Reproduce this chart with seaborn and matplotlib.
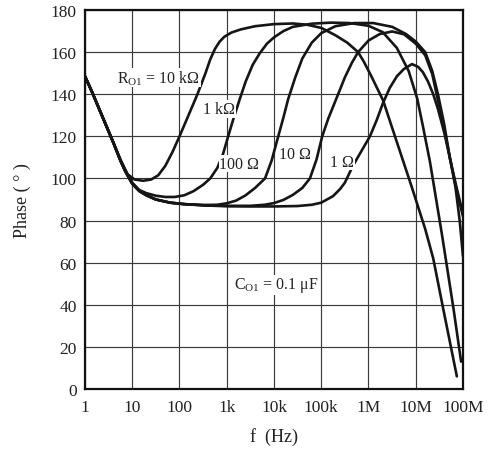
import numpy as np
import pandas as pd
import matplotlib
matplotlib.use("Agg")
import matplotlib.pyplot as plt
import seaborn as sns

# ---------------- data (log10 of frequency in Hz, phase in degrees) ----------------
exp_10k = [0, 0.15, 0.3, 0.45, 0.6, 0.75, 0.9, 1.05, 1.23, 1.4, 1.55, 1.7, 1.85, 2.0, 2.2, 2.38,
           2.55, 2.65, 2.75, 2.85, 2.95, 3.1, 3.3, 3.6, 4.0, 4.4, 4.7, 5.0, 5.3, 5.55, 5.78, 5.9,
           6.05, 6.31, 6.56, 6.9, 7.2, 7.37, 7.6, 7.87]
ph_10k = [148.5, 141, 133, 125, 117, 109, 102, 99.5, 98.9, 99.5, 101.5, 106, 112.5, 120, 130.5, 140,
          150, 156.5, 161.5, 165, 167.3, 169.3, 170.8, 172.3, 173.3, 173.6, 173, 171.5, 168, 164.5, 160, 155.5,
          149, 137, 120, 97, 76, 62, 36, 6]

exp_1k = [0, 0.15, 0.3, 0.45, 0.6, 0.75, 0.85, 1.0, 1.15, 1.3, 1.5, 1.7, 1.9, 2.1, 2.3, 2.5, 2.65,
          2.8, 2.92, 3.03, 3.15, 3.28, 3.4, 3.55, 3.7, 3.85, 4.0, 4.2, 4.4, 4.8, 5.2, 5.6, 6.0, 6.3,
          6.6, 6.85, 7.03, 7.15, 7.3, 7.55, 7.8, 7.96]
ph_1k = [148.5, 141, 133, 125, 117, 108.5, 104, 98, 94.5, 93, 91.8, 91.2, 91.2, 92, 94, 97, 100,
         105, 111.5, 120, 129, 138, 146, 154, 159.5, 164, 167, 170, 172, 173.5, 174, 173.8, 172.5, 169.5,
         162, 151, 138, 125, 108, 74, 38, 13]

exp_100 = [0, 0.15, 0.3, 0.45, 0.6, 0.75, 0.85, 1.0, 1.15, 1.3, 1.5, 1.8, 2.1, 2.5, 2.8, 3.0, 3.2,
           3.4, 3.6, 3.81, 3.95, 4.09, 4.2, 4.3, 4.45, 4.6, 4.8, 5.0, 5.3, 5.7, 6.1, 6.5, 6.8, 7.0,
           7.2, 7.35, 7.47, 7.6, 7.72, 7.84, 7.93, 8.0]
ph_100 = [148.5, 141, 133, 125, 117, 108.5, 103.5, 97.5, 94, 92, 90, 88.5, 87.8, 87.4, 87.5, 88.2, 89.5,
          92, 95.5, 100, 108.5, 120, 129, 137.7, 148, 157, 164.5, 169, 172.3, 173.8, 173.8, 172, 168.5, 165,
          160, 151, 140, 126, 110, 96, 80, 63]

exp_10 = [0, 0.15, 0.3, 0.45, 0.6, 0.75, 0.85, 1.0, 1.15, 1.3, 1.5, 1.8, 2.1, 2.5, 3.0, 3.5, 3.8,
          4.0, 4.2, 4.4, 4.6, 4.76, 4.9, 5.02, 5.15, 5.33, 5.5, 5.65, 5.78, 6.0, 6.24, 6.5, 6.75, 7.0,
          7.2, 7.35, 7.47, 7.6, 7.72, 7.85, 8.0]
ph_10 = [148.5, 141, 133, 125, 117, 108.5, 103.5, 97.5, 94, 92, 90, 88.5, 87.8, 87.3, 87, 87, 87.5,
         88.3, 89.8, 92.2, 95.5, 100, 109, 120, 128.5, 138.5, 148, 155, 160, 165.5, 168.6, 169.8, 168.5, 164,
         158.5, 149.5, 137, 124, 110, 96, 82]

exp_1 = [0, 0.15, 0.3, 0.45, 0.6, 0.75, 0.85, 1.0, 1.15, 1.3, 1.5, 1.8, 2.1, 2.5, 3.0, 3.5, 4.0,
         4.5, 4.8, 5.0, 5.25, 5.4, 5.5, 5.67, 5.85, 6.03, 6.17, 6.31, 6.45, 6.6, 6.75, 6.92, 7.05,
         7.15, 7.26, 7.37, 7.47, 7.6, 7.72, 7.85, 8.0]
ph_1 = [148.5, 141, 133, 125, 117, 108.5, 103.5, 97.5, 94, 92, 90, 88.5, 87.8, 87.2, 86.8, 86.7, 86.7,
        86.9, 87.5, 88.5, 91.6, 95, 98, 106, 113, 120, 127.5, 136, 143, 148.5, 152, 154.3, 153,
        150.5, 146, 140, 133, 122, 110, 97, 83]

curve_names = ["10 kΩ", "1 kΩ", "100 Ω", "10 Ω", "1 Ω"]
curve_exps = [exp_10k, exp_1k, exp_100, exp_10, exp_1]
curve_phs = [ph_10k, ph_1k, ph_100, ph_10, ph_1]

x_tick_exps = [0, 1, 2, 3, 4, 5, 6, 7, 8]
x_tick_labels = ["1", "10", "100", "1k", "10k", "100k", "1M", "10M", "100M"]
y_ticks = [0, 20, 40, 60, 80, 100, 120, 140, 160, 180]

# ---------------- build table ----------------
rows = []
for name, ex, ph in zip(curve_names, curve_exps, curve_phs):
    for order, (e, p) in enumerate(zip(ex, ph)):
        rows.append({"curve": name, "order": order, "f": 10.0 ** e, "phase": p})
df = pd.DataFrame(rows)

# ---------------- style ----------------
sns.set_style("white")
plt.rcParams["font.family"] = ["Liberation Serif", "DejaVu Serif"]
plt.rcParams["mathtext.fontset"] = "custom"
plt.rcParams["mathtext.rm"] = "Liberation Serif"
plt.rcParams["mathtext.it"] = "Liberation Serif:italic"
plt.rcParams["lines.solid_joinstyle"] = "round"
plt.rcParams["lines.solid_capstyle"] = "round"

fig = plt.figure(figsize=(4.89, 4.56), dpi=100)
ax = fig.add_axes([85 / 489, 1 - 390 / 456, (463 - 85) / 489, (390 - 11) / 456])

sns.lineplot(data=df, x="f", y="phase", hue="curve", units="curve", estimator=None,
             sort=False, palette=["#151515"] * 5, linewidth=1.9, legend=False, ax=ax)
for ln in ax.get_lines():
    ln.set_solid_joinstyle("round")

ax.set_xscale("log")
ax.set_xlim(1, 1e8)
ax.set_ylim(0, 180)
ax.set_xticks([10.0 ** e for e in x_tick_exps])
ax.set_xticklabels(x_tick_labels)
ax.xaxis.set_minor_locator(matplotlib.ticker.NullLocator())
ax.set_yticks(y_ticks)
ax.tick_params(axis="both", length=0, labelsize=12.5, colors="#222222")
ax.tick_params(axis="x", pad=7)
ax.tick_params(axis="y", pad=6)
ax.grid(True, which="major", color="#3a3a3a", linewidth=0.85)
ax.set_axisbelow(True)
for s in ax.spines.values():
    s.set_color("#111111")
    s.set_linewidth(1.6)

ax.set_xlabel("f  (Hz)", fontsize=13, labelpad=9, color="#222222")
ax.set_ylabel("Phase ( ° )", fontsize=13, labelpad=14, color="#222222")

# ---------------- annotations ----------------
tk = dict(fontsize=11.5, color="#222222", va="center", ha="left",
          bbox=dict(facecolor="white", edgecolor="none", pad=0.5))
ax.text(10 ** 0.68, 148, r"R$_{\mathrm{O1}}$ = 10 kΩ", **tk)
ax.text(10 ** 2.5, 133, "1 kΩ", **tk)
ax.text(10 ** 2.84, 107, "100 Ω", **tk)
ax.text(10 ** 4.1, 111.5, "10 Ω", **tk)
ax.text(10 ** 5.19, 108, "1 Ω", **tk)
ax.text(10 ** 3.15, 49.5, r"C$_{\mathrm{O1}}$ = 0.1 μF", **tk)

fig.savefig("out.png", dpi=100)
